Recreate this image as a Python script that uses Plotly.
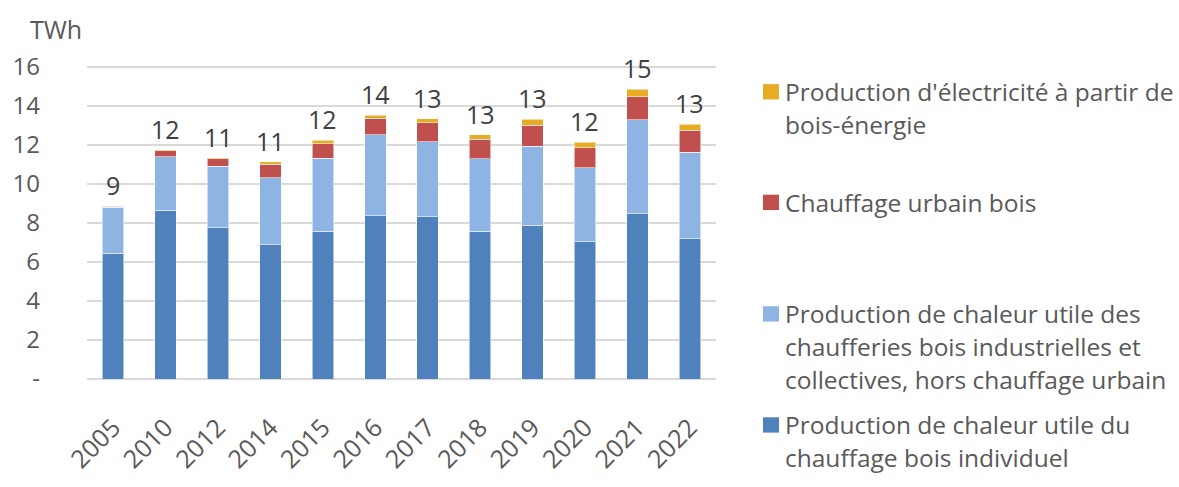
import plotly.graph_objects as go

# Years on the category axis
years = ["2005", "2010", "2012", "2014", "2015", "2016", "2017", "2018", "2019", "2020", "2021", "2022"]

# Wood-energy production by use (TWh)
individuel = [6.44, 8.66, 7.75, 6.88, 7.57, 8.38, 8.32, 7.58, 7.88, 7.04, 8.48, 7.19]
chaufferies = [2.37, 2.73, 3.15, 3.43, 3.74, 4.14, 3.85, 3.71, 4.06, 3.79, 4.82, 4.44]
urbain = [0.06, 0.31, 0.39, 0.69, 0.75, 0.85, 0.97, 1.00, 1.08, 1.02, 1.16, 1.12]
electricite = [0.01, 0.03, 0.05, 0.14, 0.18, 0.15, 0.21, 0.23, 0.30, 0.29, 0.39, 0.31]

y_ticks = [0, 2, 4, 6, 8, 10, 12, 14, 16]
y_tick_text = ["-", "2", "4", "6", "8", "10", "12", "14", "16"]

# Series labels, one list entry per wrapped line
label_individuel = ["Production de chaleur utile du", "chauffage bois individuel"]
label_chaufferies = ["Production de chaleur utile des", "chaufferies bois industrielles et",
                     "collectives, hors chauffage urbain"]
label_urbain = ["Chauffage urbain bois"]
label_electricite = ["Production d'électricité à partir de", "bois-énergie"]

colors = ["#4F81BD", "#8DB4E2", "#C0504D", "#E6AC24"]
series = [individuel, chaufferies, urbain, electricite]
labels = [label_individuel, label_chaufferies, label_urbain, label_electricite]

FONT = "Open Sans"
TEXT = "#595959"

# Page geometry (pixels)
W, H = 1179, 487
ML, MR, MT, MB = 87, 463, 65, 94
PW, PH = W - ML - MR, H - MT - MB


def xp(px):
    return (px - ML) / PW


def yp(py):
    return (H - MB - py) / PH


fig = go.Figure()
for vals, lab, col in zip(series, labels, colors):
    fig.add_trace(go.Bar(
        x=years, y=vals, name=" ".join(lab), showlegend=False,
        marker=dict(color=col, line=dict(color="rgba(255,255,255,0.55)", width=1)),
    ))

# Stack totals written above each bar (category axis -> category index)
totals = [sum(v) for v in zip(*series)]
for i, tot in enumerate(totals):
    fig.add_annotation(
        x=i, y=tot, text=f"{tot:.0f}", showarrow=False,
        yanchor="bottom", yshift=2,
        font=dict(family=FONT, size=25, color="#404040"),
    )

# Unit label above the value axis
fig.add_annotation(
    xref="paper", yref="paper", x=xp(28), y=yp(27), xanchor="left", yanchor="middle",
    text="TWh", showarrow=False, font=dict(family=FONT, size=25, color=TEXT),
)

# Legend on the right: swatch + wrapped label, top entry = top of the stack
legend_rows = [93, 208.5, 325, 441]   # pixel centre of each entry's first line
line_step = 34
for col, lab, row in zip(colors[::-1], labels[::-1], legend_rows):
    fig.add_shape(
        type="rect", xref="paper", yref="paper",
        x0=xp(763), x1=xp(779), y0=yp(row + 8), y1=yp(row - 8),
        fillcolor=col, line=dict(width=0),
    )
    for k, line in enumerate(lab):
        fig.add_annotation(
            xref="paper", yref="paper", x=xp(782.5), y=yp(row + k * line_step),
            xanchor="left", yanchor="middle", text=line, showarrow=False,
            font=dict(family=FONT, size=24.5, color=TEXT),
        )

fig.update_layout(
    barmode="stack",
    bargap=0.59,
    width=W, height=H,
    margin=dict(l=ML, r=MR, t=MT, b=MB),
    plot_bgcolor="white", paper_bgcolor="white",
    font=dict(family=FONT, color=TEXT),
    showlegend=False,
    xaxis=dict(
        type="category",
        tickangle=-45, tickfont=dict(family=FONT, size=25, color=TEXT),
        showgrid=False, showline=False, ticklabelstandoff=28,
    ),
    yaxis=dict(
        range=[0, 16.1], tickvals=y_ticks, ticktext=y_tick_text,
        tickfont=dict(family=FONT, size=24, color=TEXT),
        showgrid=True, gridcolor="#D9D9D9", gridwidth=2,
        zeroline=True, zerolinecolor="#D9D9D9", zerolinewidth=2,
        ticklabelstandoff=46,
    ),
)

fig.write_html("out.html")
